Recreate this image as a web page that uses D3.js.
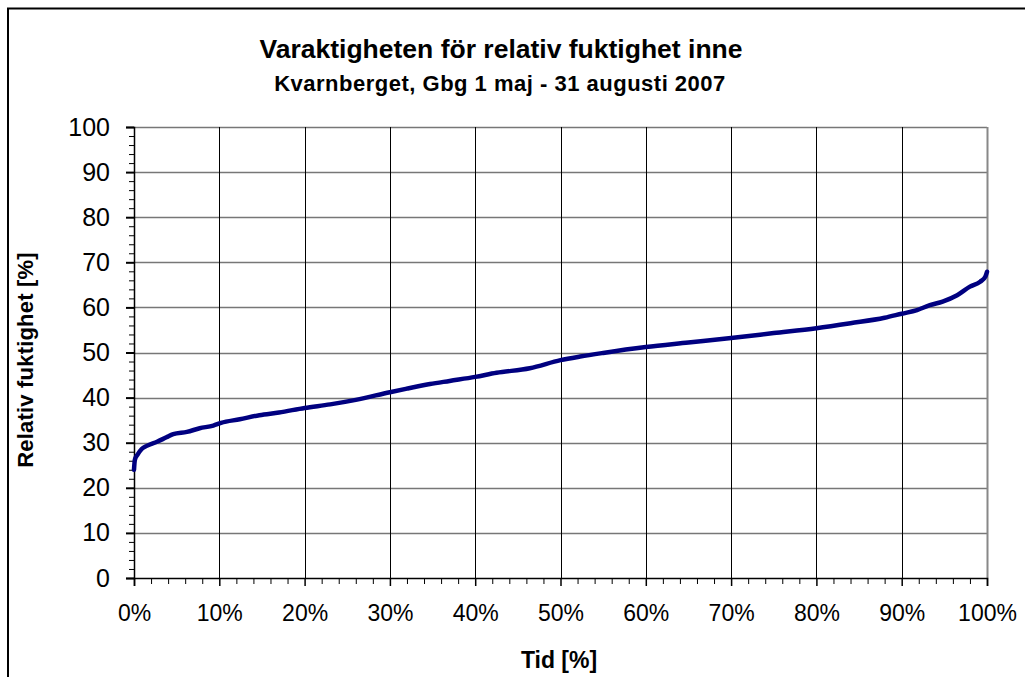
<!DOCTYPE html>
<html lang="sv">
  <head>
    <meta charset="utf-8" />
    <title>Varaktigheten för relativ fuktighet inne</title>
    <script src="https://d3js.org/d3.v7.min.js"></script>
    <style>
      body { margin: 0; background: #fff; }
      svg { display: block; font-family: "Liberation Sans", Arial, sans-serif; }
    </style>
  </head>
  <body>
    <div id="chart"></div>
    <script>
      // duration curve
      const timePct = [0, 0.1, 0.4, 0.9, 1.5, 2.7, 3.8, 4.6, 6.2, 7.7, 9.3, 10.2, 12.4, 14.7, 17, 20, 23, 26, 30, 32, 34.7, 37, 40, 42.5, 46.4, 50, 52.3, 55, 60, 65, 70, 75, 80, 84, 88, 90, 91.8, 93.3, 94.8, 96.5, 98, 99.2, 99.8, 100];
      const rhValues = [24, 26.2, 27.3, 28.6, 29.3, 30.2, 31.2, 31.9, 32.4, 33.2, 33.8, 34.4, 35.2, 36.1, 36.7, 37.7, 38.5, 39.5, 41.2, 42.0, 43.0, 43.7, 44.6, 45.5, 46.5, 48.3, 49.1, 49.9, 51.2, 52.2, 53.2, 54.3, 55.4, 56.5, 57.7, 58.6, 59.4, 60.5, 61.3, 62.7, 64.6, 65.7, 66.8, 67.9];
      const yTicks = [0, 10, 20, 30, 40, 50, 60, 70, 80, 90, 100];
      const xTicks = [0, 10, 20, 30, 40, 50, 60, 70, 80, 90, 100];

      const title = "Varaktigheten för relativ fuktighet inne";
      const subtitle = "Kvarnberget, Gbg 1 maj - 31 augusti 2007";
      const xTitle = "Tid [%]";
      const yTitle = "Relativ fuktighet [%]";

      const width = 1025;
      const height = 677;
      const plotLeft = 134, plotRight = 987, plotTop = 127, plotBottom = 578;

      const x = d3.scaleLinear().domain([0, 100]).range([plotLeft, plotRight]);
      const y = d3.scaleLinear().domain([0, 100]).range([plotBottom, plotTop]);

      const svg = d3
        .select("#chart")
        .append("svg")
        .attr("width", width)
        .attr("height", height);

      // outer chart border (runs off the right and bottom)
      svg
        .append("rect")
        .attr("x", 8)
        .attr("y", 8.5)
        .attr("width", 1040)
        .attr("height", 700)
        .attr("fill", "none")
        .attr("stroke", "#000")
        .attr("stroke-width", 2);

      // horizontal grid (grey)
      svg
        .append("g")
        .selectAll("line")
        .data(yTicks.filter((d) => d > 0))
        .enter()
        .append("line")
        .attr("x1", plotLeft)
        .attr("x2", plotRight)
        .attr("y1", (d) => Math.round(y(d)) + 0.5)
        .attr("y2", (d) => Math.round(y(d)) + 0.5)
        .attr("stroke", "#777")
        .attr("stroke-width", 1.5);

      // vertical grid (black, thin)
      svg
        .append("g")
        .selectAll("line")
        .data(xTicks.filter((d) => d > 0 && d < 100))
        .enter()
        .append("line")
        .attr("x1", (d) => Math.round(x(d)) + 0.5)
        .attr("x2", (d) => Math.round(x(d)) + 0.5)
        .attr("y1", plotTop)
        .attr("y2", plotBottom)
        .attr("stroke", "#000")
        .attr("stroke-width", 1);

      // right edge of plot area
      svg
        .append("line")
        .attr("x1", plotRight + 0.5)
        .attr("x2", plotRight + 0.5)
        .attr("y1", plotTop)
        .attr("y2", plotBottom)
        .attr("stroke", "#888")
        .attr("stroke-width", 2);

      // y axis
      const yAxis = svg
        .append("g")
        .attr("transform", `translate(${plotLeft},0)`)
        .call(d3.axisLeft(y).tickValues(yTicks).tickSize(8).tickFormat(d3.format("d")));
      yAxis.select(".domain").attr("stroke", "#000").attr("stroke-width", 1.5);
      yAxis.selectAll(".tick line").attr("stroke-width", 2);
      yAxis
        .selectAll(".tick text")
        .attr("x", -24)
        .attr("font-size", 25)
        .attr("fill", "#000");

      svg
        .append("g")
        .attr("transform", `translate(${plotLeft},0)`)
        .call(d3.axisLeft(y).tickValues(d3.range(2, 100, 2).filter((d) => d % 10)).tickSize(5).tickFormat(""))
        .call((g) => g.select(".domain").remove());

      // x axis
      const xAxis = svg
        .append("g")
        .attr("transform", `translate(0,${plotBottom})`)
        .call(d3.axisBottom(x).tickValues(xTicks).tickSize(8).tickFormat((d) => d + "%"));
      xAxis.select(".domain").attr("stroke", "#000").attr("stroke-width", 1.5);
      xAxis.selectAll(".tick line").attr("stroke-width", 1.5);
      xAxis
        .selectAll(".tick text")
        .attr("y", 27)
        .attr("font-size", 23)
        .attr("fill", "#000");

      svg
        .append("g")
        .attr("transform", `translate(0,${plotBottom})`)
        .call(d3.axisBottom(x).tickValues(d3.range(2, 100, 2).filter((d) => d % 10)).tickSize(6).tickFormat(""))
        .call((g) => g.select(".domain").remove());

      // the curve
      const points = timePct.map((t, i) => [t, rhValues[i]]);
      svg
        .append("path")
        .datum(points)
        .attr("fill", "none")
        .attr("stroke", "#000080")
        .attr("stroke-width", 4.5)
        .attr("stroke-linejoin", "round")
        .attr("stroke-linecap", "round")
        .attr("d", d3.line().x((d) => x(d[0])).y((d) => y(d[1])).curve(d3.curveMonotoneX));

      // texts
      svg
        .append("text")
        .attr("x", 501)
        .attr("y", 58)
        .attr("text-anchor", "middle")
        .attr("font-size", 26.5)
        .attr("font-weight", "bold")
        .text(title);

      svg
        .append("text")
        .attr("x", 500)
        .attr("y", 91)
        .attr("text-anchor", "middle")
        .attr("font-size", 22)
        .attr("font-weight", "bold")
        .attr("letter-spacing", 0.5)
        .text(subtitle);

      svg
        .append("text")
        .attr("x", 559)
        .attr("y", 668)
        .attr("text-anchor", "middle")
        .attr("font-size", 23)
        .attr("font-weight", "bold")
        .text(xTitle);

      svg
        .append("text")
        .attr("transform", "translate(33,360) rotate(-90)")
        .attr("text-anchor", "middle")
        .attr("font-size", 22)
        .attr("font-weight", "bold")
        .attr("letter-spacing", 0.2)
        .text(yTitle);
    </script>
  </body>
</html>
